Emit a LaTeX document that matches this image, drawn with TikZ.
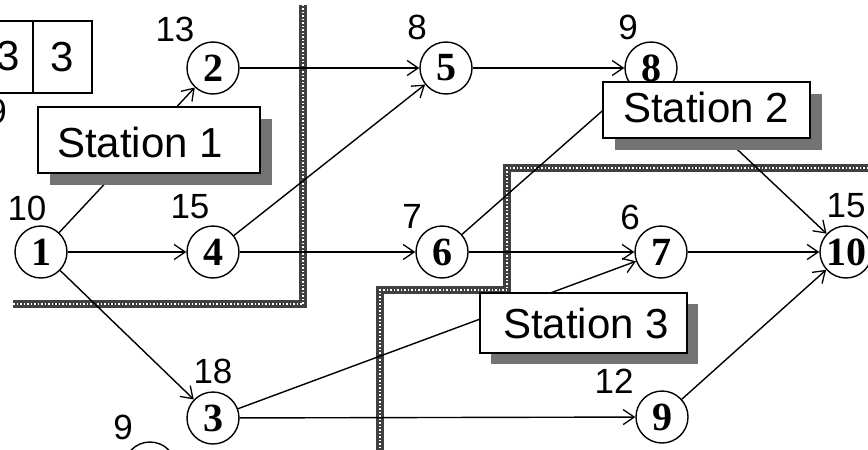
\documentclass[tikz,border=0pt]{standalone}
\usepackage{fontspec}
\setmainfont{Liberation Sans}
\newfontfamily\nodefont{Liberation Serif}
\usetikzlibrary{arrows.meta}
\begin{document}
\begin{tikzpicture}[x=1pt,y=-1pt,
  stn/.style={circle, draw, line width=1.4pt, fill=white, minimum size=52pt, inner sep=0pt,
              font=\nodefont\bfseries\fontsize{40}{40}\selectfont},
  lbl/.style={font=\fontsize{35}{35}\selectfont, inner sep=0pt},
  edge/.style={draw, line width=1.4pt, -{Straight Barb[length=11pt,width=15pt,line width=1.3pt]}},
  hatchbase/.style={line width=8pt, draw=black!75, line join=miter},
  hatchtex/.style={line width=2pt, draw=white, dash pattern=on 1.5pt off 2pt, line join=miter},
  boxshadow/.style={fill=black!55, draw=none},
  stbox/.style={draw, line width=1.6pt, fill=white, inner sep=0pt},
  stlbl/.style={font=\fontsize{42}{42}\selectfont, inner sep=0pt},
  cellbox/.style={draw, line width=1.6pt, fill=white, inner sep=0pt, minimum width=59pt, minimum height=72pt,
                  font=\fontsize{42}{42}\selectfont}
]
\useasboundingbox (0,0) rectangle (868,450);

% station boundaries
\draw[hatchbase] (13,304) -- (303,304) -- (303,5);
\draw[hatchtex]  (13,304) -- (303,304) -- (303,5);
\draw[hatchbase] (868,168) -- (507,168) -- (507,290) -- (380,290) -- (380,450);
\draw[hatchtex]  (868,168) -- (507,168) -- (507,290) -- (380,290) -- (380,450);

% top-left partial boxes
\node[cellbox] (c1) at (3.5,57) {};
\node[cellbox] (c2) at (62.5,57) {3};
\node[font=\fontsize{42}{42}\selectfont, inner sep=0pt] (c1t) at (8,56) {3};
\node[lbl] (lx) at (-3,111) {9};

% nodes
\node[stn] (n1) at (41,252) {1};
\node[stn] (n2) at (213,68) {2};
\node[stn] (n3) at (213,418) {3};
\node[stn] (n4) at (213,252) {4};
\node[stn] (n5) at (446,68) {5};
\node[stn] (n6) at (442,252) {6};
\node[stn] (n7) at (661,252) {7};
\node[stn] (n8) at (651,68) {8};
\node[stn] (n9) at (662,417) {9};
\node[stn] (n10) at (846,252) {10};
\node[stn] (nx) at (150,468) {};

% labels
\node[lbl] (l1) at (27,208) {10};
\node[lbl] (l2) at (175,29) {13};
\node[lbl] (l3) at (213,371) {18};
\node[lbl] (l4) at (190,207) {15};
\node[lbl] (l5) at (417,27) {8};
\node[lbl] (l6) at (412,216) {7};
\node[lbl] (l7) at (630,217) {6};
\node[lbl] (l8) at (628,27) {9};
\node[lbl] (l9) at (614,381) {12};
\node[lbl] (l10) at (846,206) {15};
\node[lbl] (lxx) at (123,427) {9};

% edges
\draw[edge] (n1) -- (n4);
\draw[edge] (n1) -- (n2);
\draw[edge] (n1) -- (n3);
\draw[edge] (n2) -- (n5);
\draw[edge] (n4) -- (n5);
\draw[edge] (n4) -- (n6);
\draw[edge] (n5) -- (n8);
\draw[edge] (n6) -- (n7);
\draw[edge] (n6) -- (n8);
\draw[edge] (n8) -- (n10);
\draw[edge] (n7) -- (n10);
\draw[edge] (n3) -- (n7);
\draw[edge] (n3) -- (n9);
\draw[edge] (n9) -- (n10);

% station boxes
\fill[boxshadow] (50,119) rectangle (272,185);
\node[stbox, minimum width=222pt, minimum height=66pt] (s1) at (149,140) {};
\node[stlbl] (s1t) at (140,142) {Station 1};

\fill[boxshadow] (615,94) rectangle (822,150);
\node[stbox, minimum width=207pt, minimum height=56pt] (s2) at (706.5,110) {};
\node[stlbl] (s2t) at (706,107) {Station 2};

\fill[boxshadow] (491,304) rectangle (698,364);
\node[stbox, minimum width=207pt, minimum height=60pt] (s3) at (583.5,323) {};
\node[stlbl] (s3t) at (586,323) {Station 3};
\end{tikzpicture}
\end{document}
